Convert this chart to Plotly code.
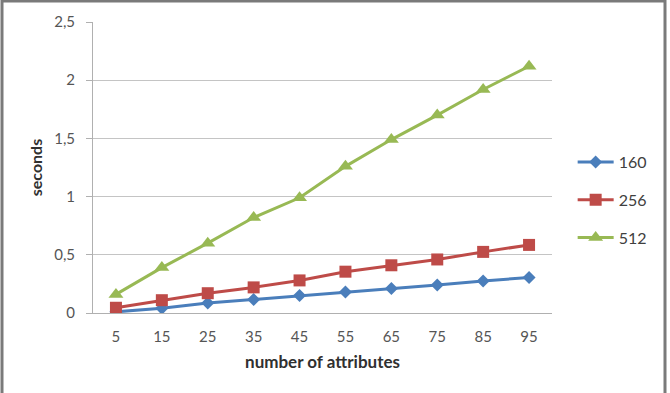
import plotly.graph_objects as go

categories = ["5", "15", "25", "35", "45", "55", "65", "75", "85", "95"]
s160 = [0.01, 0.04, 0.085, 0.115, 0.15, 0.18, 0.21, 0.24, 0.275, 0.305]
s256 = [0.045, 0.11, 0.17, 0.22, 0.28, 0.355, 0.41, 0.46, 0.525, 0.585]
s512 = [0.16, 0.39, 0.60, 0.82, 0.99, 1.26, 1.49, 1.70, 1.92, 2.12]
y_ticks = [0, 0.5, 1, 1.5, 2, 2.5]

series = [
    ("160", s160, "#4a7ebb", "diamond", 10),
    ("256", s256, "#be4b48", "square", 12),
    ("512", s512, "#98b954", "triangle-up", 13),
]

fig = go.Figure()
for name, vals, color, sym, size in series:
    fig.add_trace(go.Scatter(
        x=categories, y=vals, name=name, mode="lines+markers",
        line=dict(color=color, width=3),
        marker=dict(symbol=sym, size=size, color=color),
        legendgroup=name,
    ))

fig.update_layout(
    width=670, height=393,
    margin=dict(l=93, r=118, t=22, b=80),
    paper_bgcolor="white", plot_bgcolor="white",
    separators=", ",
    font=dict(family="Lato, Open Sans, sans-serif", size=15, color="#404040"),
    showlegend=True,
    legend=dict(x=1.045, y=0.388, xanchor="left", yanchor="middle",
                traceorder="grouped", tracegroupgap=14,
                font=dict(size=16, color="#404040"), itemwidth=36),
    xaxis=dict(type="category", range=[-0.5, 9.5], showgrid=False,
               showline=True, linecolor="#b0b0b0", linewidth=1,
               ticks="", ticklabelstandoff=10,
               tickfont=dict(size=15, color="#555555"),
               title=dict(text="<b>number of attributes</b>", standoff=12,
                          font=dict(size=17, color="#303030"))),
    yaxis=dict(range=[0, 2.5], tickvals=y_ticks, tickformat="~g",
               showgrid=True, gridcolor="#c4c4c4", gridwidth=1,
               showline=True, linecolor="#b0b0b0", linewidth=1,
               ticks="outside", ticklen=6, tickcolor="#b0b0b0",
               ticklabelstandoff=8, zeroline=False,
               tickfont=dict(size=15, color="#555555"),
               title=dict(text="<b>seconds</b>", standoff=7,
                          font=dict(size=16, color="#303030"))),
)

# outer frame
fig.add_shape(type="rect", xref="paper", yref="paper",
              x0=-91/459, x1=572/459, y0=-90/291, y1=(291+21)/291,
              line=dict(color="#7a7a7a", width=3), layer="above")

fig.write_html("out.html")
